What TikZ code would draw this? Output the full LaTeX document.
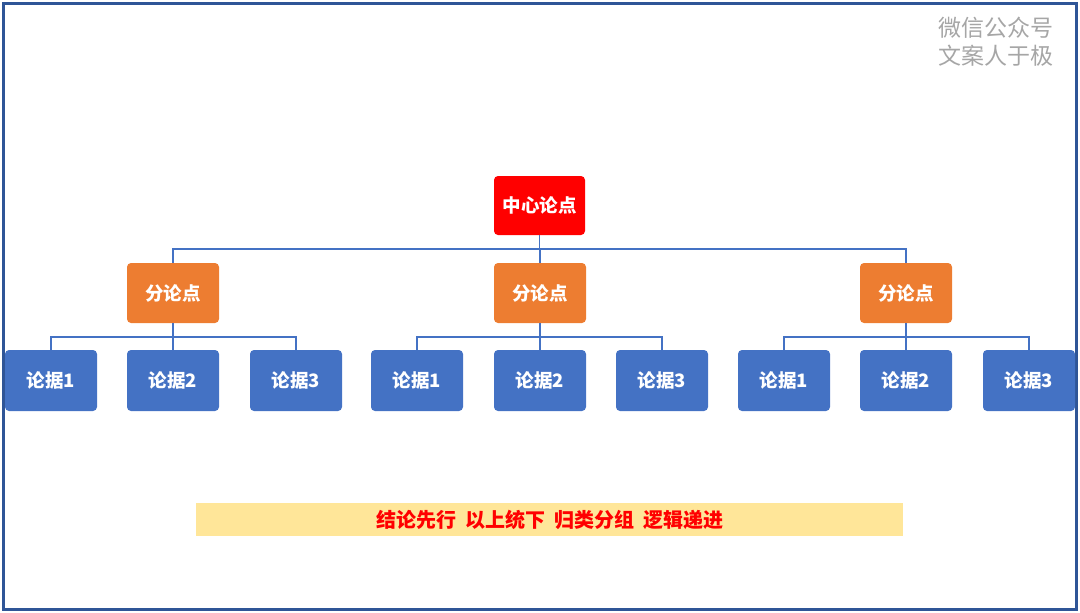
\documentclass[tikz,border=0pt]{standalone}
\usepackage{fontspec}
\usepackage{xcolor}
\setmainfont{Noto Sans CJK SC}
\usetikzlibrary{positioning}

\definecolor{framebl}{HTML}{2F5597}
\definecolor{pointred}{HTML}{FF0000}
\definecolor{subor}{HTML}{ED7D31}
\definecolor{leafbl}{HTML}{4472C4}
\definecolor{bannery}{HTML}{FFE699}
\definecolor{markgray}{HTML}{A6A6A6}

\tikzset{
  box/.style={rounded corners=4pt, minimum width=92pt, minimum height=60pt,
    text=white, font=\fontsize{18.5}{20}\selectfont\bfseries, inner sep=0pt},
  centerbox/.style={box, fill=pointred, minimum width=91pt, minimum height=59pt},
  subbox/.style={box, fill=subor},
  leafbox/.style={box, fill=leafbl, minimum height=61pt},
  link/.style={draw=leafbl, line width=1.4pt}
}

\begin{document}
\begin{tikzpicture}[x=1pt,y=-1pt]
    \useasboundingbox (0,0) rectangle (1080,613);
    % outer frame
    \draw[framebl, line width=3pt] (3,3) rectangle (1076,609);

    % watermark
    \node[text=markgray, align=right, anchor=north east,
      font=\fontsize{23}{28}\selectfont, inner sep=0pt] (mark) at (1054,17)
      {微信公众号\\文案人于极};

    % central point
    \node[centerbox] (cp) at (539.5,205.5) {中心论点};

    % sub points
    \node[subbox] (s1) at (173,293) {分论点};
    \node[subbox] (s2) at (540,293) {分论点};
    \node[subbox] (s3) at (906,293) {分论点};

    % evidence
    \node[leafbox] (e11) at (51,380.5) {论据1};
    \node[leafbox] (e12) at (173,380.5) {论据2};
    \node[leafbox] (e13) at (296,380.5) {论据3};
    \node[leafbox] (e21) at (417,380.5) {论据1};
    \node[leafbox] (e22) at (540,380.5) {论据2};
    \node[leafbox] (e23) at (662,380.5) {论据3};
    \node[leafbox] (e31) at (784,380.5) {论据1};
    \node[leafbox] (e32) at (906,380.5) {论据2};
    \node[leafbox] (e33) at (1029,380.5) {论据3};

    % bus levels
    \coordinate (bus0) at (0,249);
    \coordinate (bus1) at (0,337);

    % connectors: centre to sub points
    \foreach \s in {s1,s2,s3}
      \draw[link] (cp.south) -- (cp.south |- bus0) -| (\s.north);

    % connectors: sub points to evidence
    \foreach \g in {1,2,3}
      \foreach \e in {1,2,3}
        \draw[link] (s\g.south) -- (s\g.south |- bus1) -| (e\g\e.north);

    % summary banner
    \node[fill=bannery, minimum width=707pt, minimum height=33pt, inner sep=0pt,
      text=pointred, font=\fontsize{20}{22}\selectfont\bfseries] (motto) at (549.5,519.5)
      {结论先行\hspace{9pt}以上统下\hspace{9pt}归类分组\hspace{9pt}逻辑递进\hspace{5pt}};
\end{tikzpicture}
\end{document}
